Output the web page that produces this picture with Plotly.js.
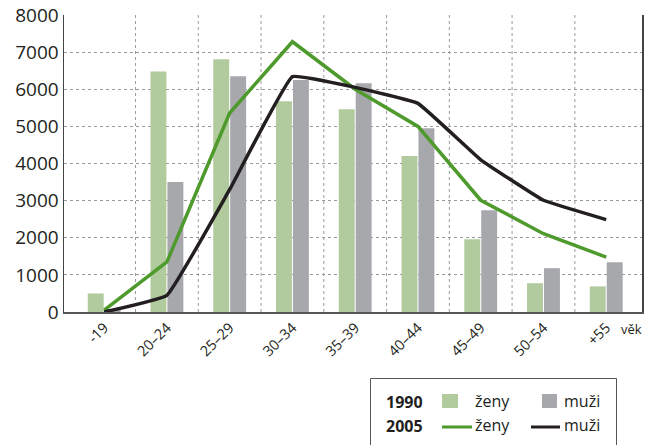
<!DOCTYPE html>
<html>
<head>
<meta charset="utf-8">
<script src="https://cdn.plot.ly/plotly-3.0.1.min.js"></script>
<style>html,body{margin:0;padding:0;background:#fff;}#chart{width:645px;height:445px;}</style>
</head>
<body>
<div id="chart"></div>
<script>
const categories = ['-19', '20–24', '25–29', '30–34', '35–39', '40–44', '45–49', '50–54', '+55'];
const women1990 = [500, 6480, 6810, 5680, 5460, 4200, 1960, 775, 690];
const men1990 = [80, 3500, 6350, 6250, 6160, 4950, 2740, 1180, 1340];
const women2005 = [50, 1350, 5360, 7280, 6000, 5000, 3010, 2110, 1480];
const men2005 = [0, 450, 3300, 6340, 6050, 5620, 4100, 3010, 2490];
const yTicks = [0, 1000, 2000, 3000, 4000, 5000, 6000, 7000, 8000];

const W = 645, H = 445;
const M = {l: 64, r: 3, t: 15, b: 133};
const pw = W - M.l - M.r, ph = H - M.t - M.b;
const px = x => (x - M.l) / pw;
const py = y => (H - M.b - y) / ph;

const FONT = '"Open Sans", "DejaVu Sans", sans-serif';
const TXT = '#231f20';
const C_W90 = '#b2cb9e', C_M90 = '#a7a8ac', C_W05 = '#4e9a2c', C_M05 = '#231f20';

const traces = [
  {type: 'bar', x: categories, y: women1990, marker: {color: C_W90}, name: '1990 ženy', hoverinfo: 'y'},
  {type: 'bar', x: categories, y: men1990, marker: {color: C_M90}, name: '1990 muži', hoverinfo: 'y'},
  {type: 'scatter', mode: 'lines', x: categories, y: women2005, line: {color: C_W05, width: 3.5}, name: '2005 ženy'},
  {type: 'scatter', mode: 'lines', x: categories, y: men2005, line: {color: C_M05, width: 3.5, shape: 'spline', smoothing: 0.25}, name: '2005 muži'}
];

const shapes = [];
for (let i = 0; i < categories.length - 1; i++) {
  shapes.push({type: 'line', xref: 'x', yref: 'paper', x0: i + 0.5, x1: i + 0.5, y0: 0, y1: 1,
    line: {color: '#9a9a9a', width: 1, dash: '3px,3px'}, layer: 'below'});
}
shapes.push({type: 'rect', xref: 'paper', yref: 'paper', x0: px(370.5), x1: px(616.5), y0: py(378.5), y1: py(460),
  line: {color: '#555', width: 1}, fillcolor: 'rgba(0,0,0,0)'});
shapes.push({type: 'rect', xref: 'paper', yref: 'paper', x0: px(442), x1: px(458), y0: py(394), y1: py(408),
  line: {width: 0}, fillcolor: C_W90});
shapes.push({type: 'rect', xref: 'paper', yref: 'paper', x0: px(542), x1: px(557), y0: py(394), y1: py(408),
  line: {width: 0}, fillcolor: C_M90});
shapes.push({type: 'line', xref: 'paper', yref: 'paper', x0: px(442), x1: px(472), y0: py(427), y1: py(427),
  line: {color: C_W05, width: 3}});
shapes.push({type: 'line', xref: 'paper', yref: 'paper', x0: px(531), x1: px(560), y0: py(427), y1: py(427),
  line: {color: C_M05, width: 3}});

function ann(text, x, y, size, bold, anchor) {
  return {text: bold ? '<b>' + text + '</b>' : text, xref: 'paper', yref: 'paper', x: px(x), y: py(y),
    xanchor: anchor || 'left', yanchor: 'middle', showarrow: false,
    font: {family: FONT, size: size, color: TXT}};
}
const annotations = [
  ann('věk', 644, 329, 13, false, 'right'),
  ann('1990', 384, 402, 16, true),
  ann('ženy', 473, 401, 16, false),
  ann('muži', 562, 401, 16, false),
  ann('2005', 384, 426, 16, true),
  ann('ženy', 473, 425, 16, false),
  ann('muži', 562, 425, 16, false)
];

const layout = {
  width: W, height: H,
  margin: M,
  paper_bgcolor: '#fff', plot_bgcolor: '#fff',
  showlegend: false,
  barmode: 'group', bargap: 0.46, bargroupgap: 0.06,
  font: {family: FONT, color: TXT},
  xaxis: {
    type: 'category', range: [-0.64, 8.57],
    showgrid: false, zeroline: false,
    showline: true, linecolor: '#555', linewidth: 1.5,
    ticks: '', tickangle: -45,
    tickfont: {family: FONT, size: 14.5, color: TXT}
  },
  yaxis: {
    range: [0, 8000], tickvals: yTicks, ticktext: yTicks.map(String),
    showgrid: true, gridcolor: '#9a9a9a', gridwidth: 1, griddash: '3px,3px',
    zeroline: false,
    showline: true, mirror: true, linecolor: '#444', linewidth: 1.5,
    ticks: '', tickfont: {family: FONT, size: 19, color: TXT}
  },
  shapes: shapes,
  annotations: annotations
};

Plotly.newPlot('chart', traces, layout, {displayModeBar: false, staticPlot: true});
</script>
</body>
</html>
